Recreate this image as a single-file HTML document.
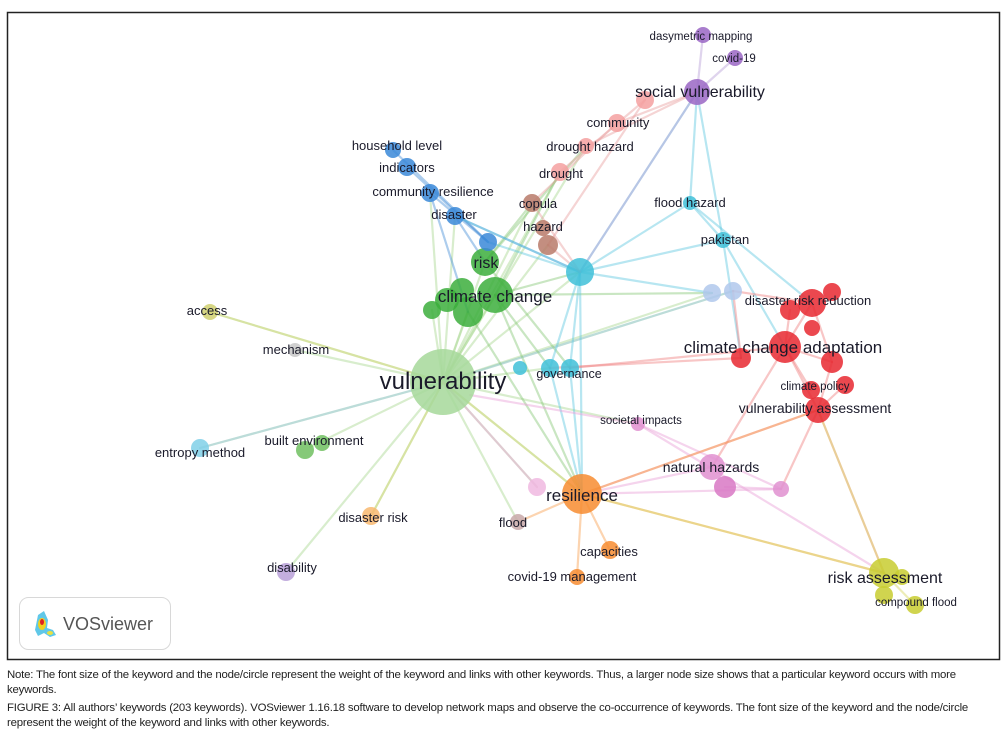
<!DOCTYPE html>
<html><head><meta charset="utf-8"><style>
html,body{margin:0;padding:0;background:#fff;width:1008px;height:744px;overflow:hidden}
svg{position:absolute;left:0;top:0}
text{font-family:"Liberation Sans",sans-serif;fill:#1a1a2a}
.cap{position:absolute;left:7px;font-family:"Liberation Sans",sans-serif;font-size:11.4px;color:#222;line-height:14.5px;width:985px;letter-spacing:-0.2px}
</style></head><body>
<svg width="1008" height="744" viewBox="0 0 1008 744">
<rect x="7.5" y="12.5" width="992" height="647" fill="#fff" stroke="#222" stroke-width="1.5"/>
<g stroke-width="2.2" stroke-opacity="0.45" fill="none" stroke-linecap="round">
<g stroke="#a8d890">
<line x1="443" y1="382" x2="210" y2="312"/><line x1="443" y1="382" x2="295" y2="350"/>
<line x1="443" y1="382" x2="200" y2="448"/><line x1="443" y1="382" x2="310" y2="447"/>
<line x1="443" y1="382" x2="286" y2="572"/><line x1="443" y1="382" x2="371" y2="516"/>
<line x1="443" y1="382" x2="485" y2="262"/><line x1="443" y1="382" x2="495" y2="295"/>
<line x1="443" y1="382" x2="455" y2="216"/><line x1="443" y1="382" x2="430" y2="193"/>
<line x1="443" y1="382" x2="580" y2="272"/><line x1="443" y1="382" x2="550" y2="368"/>
<line x1="443" y1="382" x2="582" y2="494"/><line x1="443" y1="382" x2="537" y2="487"/>
<line x1="443" y1="382" x2="518" y2="522"/><line x1="443" y1="382" x2="712" y2="293"/>
<line x1="443" y1="382" x2="733" y2="291"/><line x1="443" y1="382" x2="638" y2="424"/>
<line x1="443" y1="382" x2="532" y2="203"/><line x1="443" y1="382" x2="560" y2="172"/>
<line x1="443" y1="382" x2="586" y2="146"/><line x1="443" y1="382" x2="548" y2="245"/>
<line x1="443" y1="382" x2="432" y2="310"/><line x1="443" y1="382" x2="468" y2="312"/>
</g>
<g stroke="#9cc8e8"><line x1="443" y1="382" x2="733" y2="291"/><line x1="443" y1="382" x2="200" y2="448"/></g>
<g stroke="#d8d870"><line x1="443" y1="382" x2="210" y2="312"/><line x1="443" y1="382" x2="371" y2="516"/><line x1="443" y1="382" x2="582" y2="494"/></g>
<g stroke="#88c878">
<line x1="495" y1="295" x2="582" y2="494"/><line x1="495" y1="295" x2="550" y2="368"/>
<line x1="495" y1="295" x2="580" y2="272"/><line x1="468" y1="312" x2="582" y2="494"/>
<line x1="485" y1="262" x2="570" y2="368"/><line x1="495" y1="295" x2="712" y2="293"/>
<line x1="485" y1="262" x2="586" y2="146"/><line x1="485" y1="262" x2="532" y2="203"/>
<line x1="495" y1="295" x2="560" y2="172"/>
</g>
<g stroke="#4a90d8"><line x1="393" y1="150" x2="488" y2="242"/><line x1="407" y1="167" x2="488" y2="242"/><line x1="430" y1="193" x2="488" y2="242"/><line x1="455" y1="216" x2="580" y2="272"/><line x1="455" y1="216" x2="485" y2="262"/><line x1="430" y1="193" x2="468" y2="312"/></g>
<g stroke="#60c8e0">
<line x1="580" y1="272" x2="697" y2="92"/><line x1="580" y1="272" x2="690" y2="203"/>
<line x1="580" y1="272" x2="723" y2="240"/><line x1="580" y1="272" x2="550" y2="368"/>
<line x1="580" y1="272" x2="570" y2="368"/><line x1="580" y1="272" x2="488" y2="242"/>
<line x1="580" y1="272" x2="455" y2="216"/><line x1="690" y1="203" x2="723" y2="240"/>
<line x1="690" y1="203" x2="697" y2="92"/><line x1="723" y1="240" x2="697" y2="92"/>
<line x1="723" y1="240" x2="785" y2="347"/><line x1="690" y1="203" x2="812" y2="303"/>
<line x1="570" y1="368" x2="582" y2="494"/><line x1="550" y1="368" x2="582" y2="494"/>
<line x1="580" y1="272" x2="582" y2="494"/><line x1="580" y1="272" x2="712" y2="293"/>
<line x1="723" y1="240" x2="741" y2="358"/>
</g>
<g stroke="#e8a0a0">
<line x1="548" y1="245" x2="645" y2="100"/><line x1="532" y1="203" x2="617" y2="123"/>
<line x1="560" y1="172" x2="645" y2="100"/><line x1="586" y1="146" x2="697" y2="92"/>
<line x1="617" y1="123" x2="697" y2="92"/><line x1="548" y1="245" x2="580" y2="272"/>
<line x1="532" y1="203" x2="580" y2="272"/>
</g>
<g stroke="#b8a0d8"><line x1="697" y1="92" x2="703" y2="35"/><line x1="697" y1="92" x2="735" y2="58"/><line x1="697" y1="92" x2="580" y2="272"/></g>
<g stroke="#f08080">
<line x1="570" y1="368" x2="785" y2="347"/><line x1="550" y1="368" x2="741" y2="358"/>
<line x1="785" y1="347" x2="812" y2="303"/><line x1="785" y1="347" x2="832" y2="362"/>
<line x1="785" y1="347" x2="818" y2="410"/><line x1="785" y1="347" x2="790" y2="310"/>
<line x1="812" y1="303" x2="832" y2="362"/><line x1="832" y1="362" x2="818" y2="410"/>
<line x1="818" y1="410" x2="884" y2="573"/><line x1="818" y1="410" x2="781" y2="489"/>
<line x1="818" y1="410" x2="582" y2="494"/><line x1="785" y1="347" x2="712" y2="467"/>
<line x1="741" y1="358" x2="733" y2="291"/><line x1="812" y1="303" x2="733" y2="291"/>
<line x1="818" y1="410" x2="845" y2="385"/><line x1="811" y1="390" x2="785" y2="347"/>
</g>
<g stroke="#e8a0d8">
<line x1="582" y1="494" x2="712" y2="467"/><line x1="582" y1="494" x2="781" y2="489"/>
<line x1="638" y1="424" x2="781" y2="489"/><line x1="638" y1="424" x2="884" y2="573"/>
<line x1="470" y1="395" x2="638" y2="424"/><line x1="725" y1="487" x2="781" y2="489"/>
<line x1="443" y1="382" x2="537" y2="487"/>
</g>
<g stroke="#f8a050">
<line x1="582" y1="494" x2="610" y2="550"/><line x1="582" y1="494" x2="577" y2="577"/>
<line x1="582" y1="494" x2="518" y2="522"/><line x1="582" y1="494" x2="818" y2="410"/>
<line x1="582" y1="494" x2="884" y2="573"/>
</g>
<g stroke="#d8d860"><line x1="884" y1="573" x2="915" y2="605"/><line x1="884" y1="573" x2="818" y2="410"/><line x1="582" y1="494" x2="884" y2="573"/></g>
</g>
<g fill-opacity="0.85">
<circle cx="443" cy="382" r="33" fill="#a6d89a"/>
<circle cx="432" cy="310" r="9" fill="#3cae3c"/><circle cx="447" cy="300" r="12" fill="#3cae3c"/>
<circle cx="468" cy="312" r="15" fill="#3cae3c"/><circle cx="495" cy="295" r="18" fill="#3cae3c"/>
<circle cx="462" cy="290" r="12" fill="#3cae3c"/><circle cx="485" cy="262" r="14" fill="#3cae3c"/>
<circle cx="488" cy="242" r="9" fill="#3a88d8"/><circle cx="455" cy="216" r="9" fill="#3a88d8"/>
<circle cx="430" cy="193" r="9" fill="#3a88d8"/><circle cx="407" cy="167" r="9" fill="#3a88d8"/>
<circle cx="393" cy="150" r="8" fill="#3a88d8"/>
<circle cx="580" cy="272" r="14" fill="#40c0d8"/><circle cx="690" cy="203" r="7" fill="#40c0d8"/>
<circle cx="723" cy="240" r="8" fill="#40c0d8"/><circle cx="550" cy="368" r="9" fill="#40c0d8"/>
<circle cx="570" cy="368" r="9" fill="#40c0d8"/><circle cx="520" cy="368" r="7" fill="#40c0d8"/>
<circle cx="200" cy="448" r="9" fill="#80d0e8"/>
<circle cx="548" cy="245" r="10" fill="#b87a6a"/><circle cx="543" cy="228" r="8" fill="#b87a6a"/>
<circle cx="532" cy="203" r="9" fill="#b87a6a"/>
<circle cx="560" cy="172" r="9" fill="#f4a0a0"/><circle cx="586" cy="146" r="8" fill="#f4a0a0"/>
<circle cx="617" cy="123" r="9" fill="#f4a0a0"/><circle cx="645" cy="100" r="9" fill="#f4a0a0"/>
<circle cx="697" cy="92" r="13" fill="#9a66c4"/><circle cx="703" cy="35" r="8" fill="#9a66c4"/>
<circle cx="735" cy="58" r="8" fill="#9a66c4"/><circle cx="286" cy="572" r="9" fill="#b8a0d8"/>
<circle cx="712" cy="293" r="9" fill="#b0c8ec"/><circle cx="733" cy="291" r="9" fill="#b0c8ec"/>
<circle cx="785" cy="347" r="16" fill="#e82830"/><circle cx="741" cy="358" r="10" fill="#e82830"/>
<circle cx="790" cy="310" r="10" fill="#e82830"/><circle cx="812" cy="303" r="14" fill="#e82830"/>
<circle cx="832" cy="292" r="9" fill="#e82830"/><circle cx="812" cy="328" r="8" fill="#e82830"/>
<circle cx="832" cy="362" r="11" fill="#e82830"/><circle cx="811" cy="390" r="9" fill="#e82830"/>
<circle cx="845" cy="385" r="9" fill="#e82830"/><circle cx="818" cy="410" r="13" fill="#e82830"/>
<circle cx="712" cy="467" r="13" fill="#e090d0"/><circle cx="725" cy="487" r="11" fill="#d878c4"/>
<circle cx="781" cy="489" r="8" fill="#e090d0"/><circle cx="638" cy="424" r="7" fill="#e090d0"/>
<circle cx="537" cy="487" r="9" fill="#f0b8e0"/>
<circle cx="582" cy="494" r="20" fill="#f78c30"/><circle cx="610" cy="550" r="9" fill="#f78c30"/>
<circle cx="577" cy="577" r="8" fill="#f78c30"/><circle cx="371" cy="516" r="9" fill="#f8b870"/>
<circle cx="518" cy="522" r="8" fill="#c8a8a8"/>
<circle cx="884" cy="573" r="15" fill="#c8cc30"/><circle cx="902" cy="577" r="8" fill="#c8cc30"/>
<circle cx="884" cy="595" r="9" fill="#c8cc30"/><circle cx="915" cy="605" r="9" fill="#c8cc30"/>
<circle cx="210" cy="312" r="8" fill="#d0d070"/><circle cx="295" cy="350" r="7" fill="#c8c8c8"/>
<circle cx="305" cy="450" r="9" fill="#70c060"/><circle cx="322" cy="443" r="8" fill="#70c060"/>
</g>
<g text-anchor="middle">
<text x="443" y="389" font-size="24">vulnerability</text>
<text x="495" y="302" font-size="17">climate change</text>
<text x="486" y="268" font-size="16">risk</text>
<text x="783" y="353" font-size="17">climate change adaptation</text>
<text x="700" y="97" font-size="16">social vulnerability</text>
<text x="582" y="501" font-size="17">resilience</text>
<text x="885" y="583" font-size="16">risk assessment</text>
<text x="815" y="413" font-size="14">vulnerability assessment</text>
<text x="711" y="472" font-size="14">natural hazards</text>
<text x="808" y="305" font-size="13">disaster risk reduction</text>
<text x="815" y="390" font-size="11.5">climate policy</text>
<text x="569" y="378" font-size="12.5">governance</text>
<text x="641" y="424" font-size="11.5">societal impacts</text>
<text x="701" y="40" font-size="11.5">dasymetric mapping</text>
<text x="734" y="62" font-size="11.5">covid-19</text>
<text x="618" y="127" font-size="13">community</text>
<text x="590" y="151" font-size="13">drought hazard</text>
<text x="561" y="178" font-size="13">drought</text>
<text x="538" y="208" font-size="13">copula</text>
<text x="543" y="231" font-size="13">hazard</text>
<text x="397" y="150" font-size="13">household level</text>
<text x="407" y="172" font-size="13">indicators</text>
<text x="433" y="196" font-size="13">community resilience</text>
<text x="454" y="219" font-size="13">disaster</text>
<text x="690" y="207" font-size="13">flood hazard</text>
<text x="725" y="244" font-size="13">pakistan</text>
<text x="207" y="315" font-size="13">access</text>
<text x="296" y="354" font-size="13">mechanism</text>
<text x="314" y="445" font-size="13">built environment</text>
<text x="200" y="457" font-size="13">entropy method</text>
<text x="373" y="522" font-size="13">disaster risk</text>
<text x="292" y="572" font-size="13">disability</text>
<text x="513" y="527" font-size="13">flood</text>
<text x="609" y="556" font-size="13">capacities</text>
<text x="572" y="581" font-size="13">covid-19 management</text>
<text x="916" y="606" font-size="11.5">compound flood</text>
</g>
<rect x="19.5" y="597.5" width="151" height="52" rx="9" fill="#fff" stroke="#d8d8d8"/>
<path d="M38 615 L44 611 L48 620 L47 628 L53 630 L56 635 L50 637 L44 633 L38 636 L35 630 Z" fill="#60c8e8"/>
<ellipse cx="42" cy="624" rx="4" ry="6" fill="#f0d020"/>
<ellipse cx="42" cy="622" rx="2" ry="3" fill="#e02020"/>
<ellipse cx="50" cy="633" rx="3" ry="2" fill="#e8e040"/>
<text x="63" y="630" font-size="18" style="fill:#555">VOSviewer</text>
</svg>
<div class="cap" style="top:668px">Note: The font size of the keyword and the node/circle represent the weight of the keyword and links with other keywords. Thus, a larger node size shows that a particular keyword occurs with more keywords.</div>
<div class="cap" style="top:701px">FIGURE 3: All authors’ keywords (203 keywords). VOSviewer 1.16.18 software to develop network maps and observe the co-occurrence of keywords. The font size of the keyword and the node/circle represent the weight of the keyword and links with other keywords.</div>
</body></html>
